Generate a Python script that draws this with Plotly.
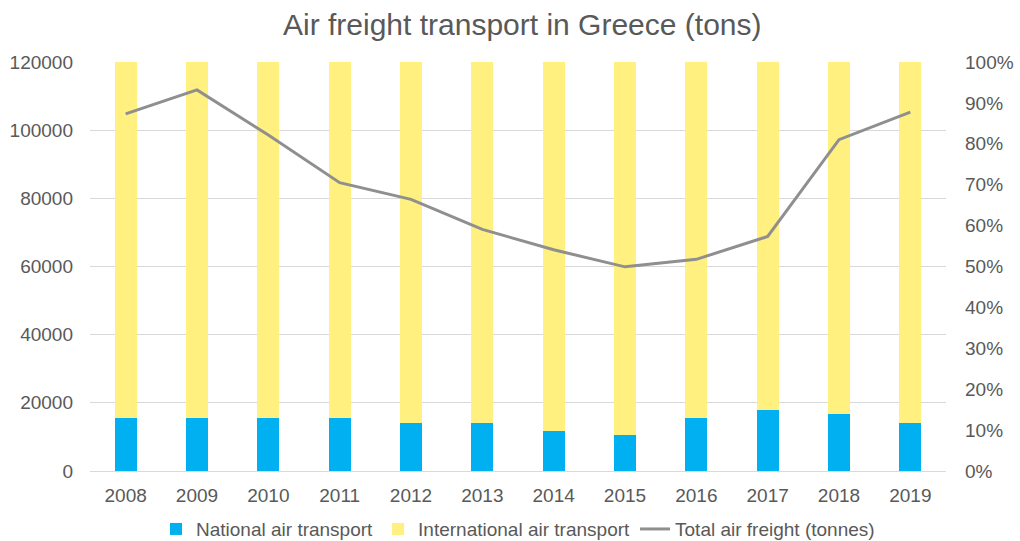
import plotly.graph_objects as go

years = ["2008", "2009", "2010", "2011", "2012", "2013",
         "2014", "2015", "2016", "2017", "2018", "2019"]
# share of national / international air freight (%)
national_share = [12.9, 12.9, 12.9, 12.9, 11.8, 11.8, 9.9, 8.8, 12.9, 14.8, 13.9, 11.8]
international_share = [87.1, 87.1, 87.1, 87.1, 88.2, 88.2, 90.1, 91.2, 87.1, 85.2, 86.1, 88.2]
# total air freight (tonnes)
total_freight = [104800, 111800, 98600, 84600, 79700, 70900,
                 64900, 59900, 62100, 68800, 97200, 105300]

TXT = "#595959"
FONT = "Liberation Sans, Arial, sans-serif"

fig = go.Figure()
fig.add_trace(go.Bar(x=years, y=national_share, name="National air transport",
                     marker_color="#00B0F0", marker_line_width=0, yaxis="y"))
fig.add_trace(go.Bar(x=years, y=international_share, name="International air transport",
                     marker_color="#FFF07F", marker_line_width=0, yaxis="y"))
fig.add_trace(go.Scatter(x=years, y=total_freight, name="Total air freight (tonnes)",
                         mode="lines", line=dict(color="#8F8F8F", width=3), yaxis="y2"))

fig.update_layout(
    width=1020, height=541,
    barmode="stack", bargap=0.69,
    paper_bgcolor="white", plot_bgcolor="white",
    margin=dict(l=90, r=74, t=62, b=70, autoexpand=False),
    font=dict(family=FONT, size=19, color=TXT),
    title=dict(text="Air freight transport in Greece (tons)", x=0.512, xanchor="center",
               y=0.955, yanchor="middle", font=dict(size=30, color=TXT, family=FONT)),
    xaxis=dict(showgrid=False, showline=True, linecolor="#D9D9D9", linewidth=1,
               ticks="", tickfont=dict(size=19, color=TXT), range=[-0.5, 11.5],
               ticklabelstandoff=7, automargin=False),
    yaxis=dict(side="right", range=[0, 100], dtick=10, ticksuffix="%",
               showgrid=False, zeroline=False, tickfont=dict(size=19, color=TXT),
               ticklabelstandoff=18, automargin=False),
    yaxis2=dict(side="left", overlaying="y", range=[0, 120000], dtick=20000,
                tickformat="d", showgrid=True, gridcolor="#D9D9D9", gridwidth=1,
                zeroline=False, tickfont=dict(size=19, color=TXT),
                ticklabelstandoff=16, automargin=False),
    legend=dict(orientation="h", x=0.5, xanchor="center",
                yref="container", y=0.022, yanchor="middle",
                font=dict(size=19, color=TXT), traceorder="normal"),
)

fig.write_html("out.html")
